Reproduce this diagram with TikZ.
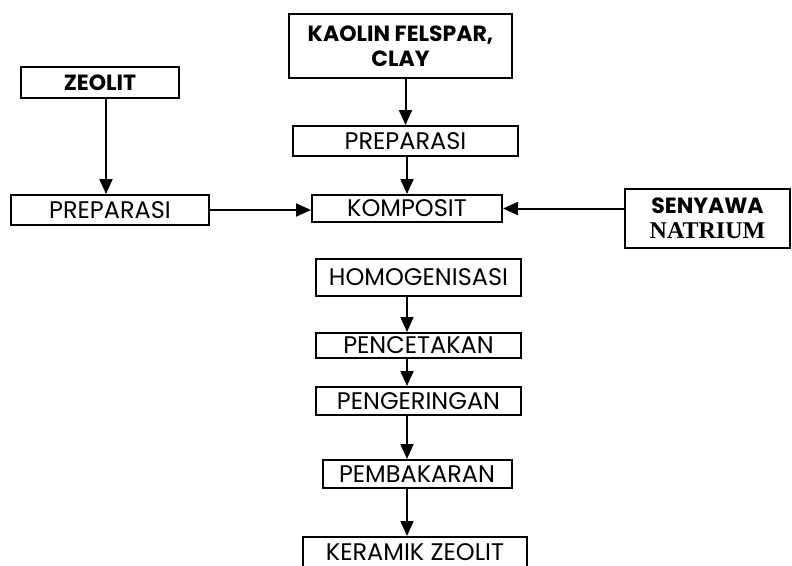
\documentclass[tikz,border=0pt]{standalone}
\usepackage{fontspec}
\usepackage{tikz}
\usetikzlibrary{arrows.meta}
\setmainfont{Poppins}
\newfontfamily\timesbold{Liberation Serif}

\begin{document}
\begin{tikzpicture}[x=1pt,y=-1pt,
    box/.style={draw,line width=2pt,inner sep=0pt,align=center,font=\fontsize{24}{26}\selectfont},
    boldbox/.style={box,font=\fontsize{22}{25}\selectfont\bfseries},
    arr/.style={line width=2pt,-{Triangle[width=13pt,length=15pt]}}]
    \useasboundingbox (0,0) rectangle (792,565);
    \clip (0,0) rectangle (792,565);

    % starting materials
    \node[boldbox,minimum width=223pt,minimum height=64pt] (kaolin) at (400.5,46) {KAOLIN FELSPAR,\\CLAY};
    \node[boldbox,minimum width=158pt,minimum height=31pt] (zeolit) at (100,82.5) {ZEOLIT};
    \node[boldbox,minimum width=165pt,minimum height=59pt] (senyawa) at (707.5,218.5) {SENYAWA\\{\timesbold\bfseries\fontsize{24}{25}\selectfont NATRIUM}};

    % preparation and composite
    \node[box,minimum width=225pt,minimum height=30pt] (prepB) at (405.5,141) {PREPARASI};
    \node[box,minimum width=198pt,minimum height=30pt] (prepA) at (110,210) {PREPARASI};
    \node[box,minimum width=190pt,minimum height=27pt] (komposit) at (407,208.5) {KOMPOSIT};

    % process steps
    \node[box,minimum width=205pt,minimum height=37pt] (homog) at (418.5,277.5) {HOMOGENISASI};
    \node[box,minimum width=205pt,minimum height=25pt] (cetak) at (418.5,345.5) {PENCETAKAN};
    \node[box,minimum width=205pt,minimum height=28pt] (kering) at (418.5,401) {PENGERINGAN};
    \node[box,minimum width=189pt,minimum height=28pt] (bakar) at (417,474) {PEMBAKARAN};
    \node[box,minimum width=224pt,minimum height=30pt] (keramik) at (415,552) {KERAMIK ZEOLIT};

    % arrows
    \draw[arr] ([xshift=6pt]zeolit.south) -- ([xshift=-4pt]prepA.north);
    \draw[arr] (kaolin.south -| prepB.north) -- (prepB.north);
    \draw[arr] (prepB.south -| komposit.north) -- (komposit.north);
    \draw[arr] (prepA.east) -- (prepA.east -| komposit.west);
    \draw[arr] (senyawa.west |- komposit.east) -- (komposit.east);
    \draw[arr] (homog.south -| komposit.south) -- (cetak.north -| komposit.south);
    \draw[arr] (cetak.south -| komposit.south) -- (kering.north -| komposit.south);
    \draw[arr] (kering.south -| komposit.south) -- (bakar.north -| komposit.south);
    \draw[arr] (bakar.south -| komposit.south) -- (keramik.north -| komposit.south);
\end{tikzpicture}
\end{document}
